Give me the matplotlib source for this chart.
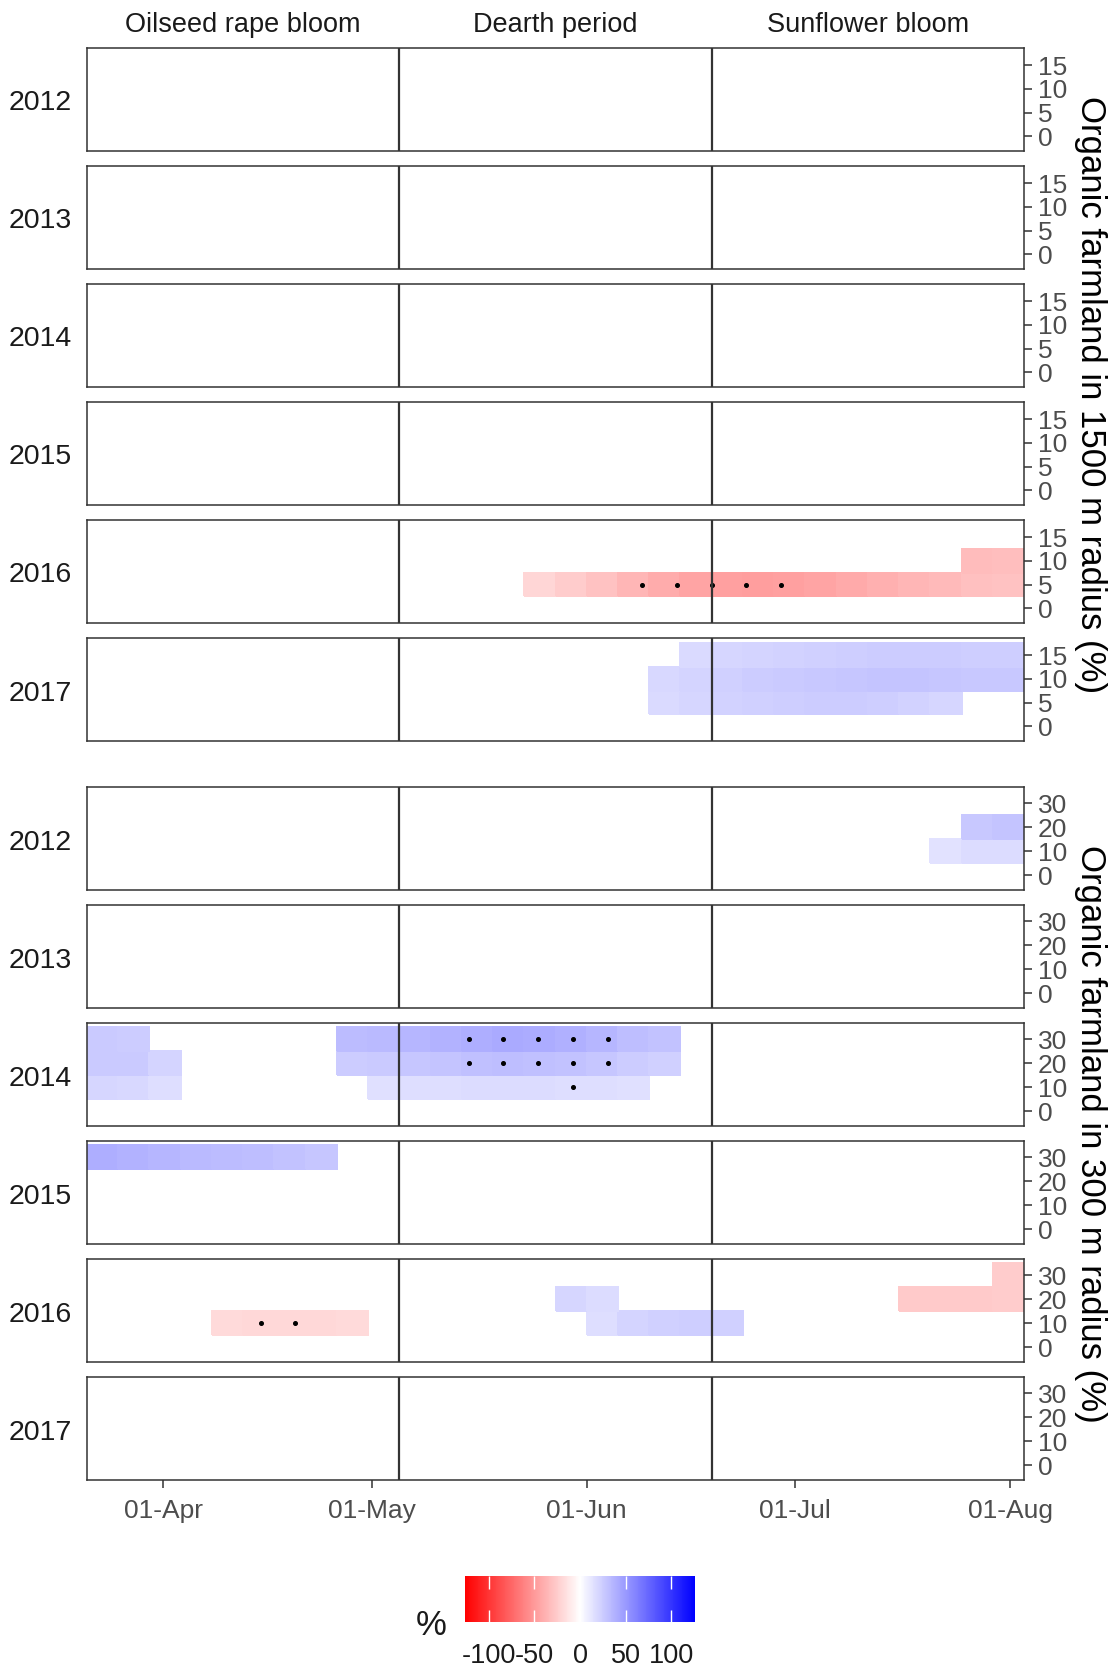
import numpy as np
import matplotlib
matplotlib.use('Agg')
import matplotlib.pyplot as plt
from matplotlib.colors import LinearSegmentedColormap, Normalize
from matplotlib.transforms import blended_transform_factory

plt.rcParams['font.family'] = ['Liberation Sans', 'DejaVu Sans']
plt.rcParams['axes.unicode_minus'] = False

years = [2012, 2013, 2014, 2015, 2016, 2017]
periods = ['Oilseed rape bloom', 'Dearth period', 'Sunflower bloom']
period_edges = [-11, 34, 79, 124]          # days after 1 April
tick_days = [0, 30, 61, 91, 122]
tick_labels = ['01-Apr', '01-May', '01-Jun', '01-Jul', '01-Aug']

# 30 moving windows of 4.5 days
win_start = -11
win_len = 4.5
n_win = 30

# organic farmland 1500 m: (year, farmland %, first window, effect %)
runs_1500 = [
    (2016, 5, 14, [-20, -25, -30, -36, -41, -45, -47, -48, -47, -45,
                   -42, -39, -36, -34, -31, -30]),
    (2016, 10, 28, [-33, -32]),
    (2017, 5, 18, [18, 20, 22, 23, 24, 25, 25, 24, 22, 20]),
    (2017, 10, 18, [19, 21, 23, 25, 26, 27, 28, 29, 29, 28, 27, 27]),
    (2017, 15, 19, [18, 20, 21, 22, 23, 24, 25, 25, 25, 24, 24]),
]
dots_1500 = [(2016, [69, 74, 79, 84, 89], [5, 5, 5, 5, 5])]

# organic farmland 300 m
runs_300 = [
    (2012, 20, 28, [27, 29]),
    (2012, 10, 27, [14, 17, 17]),
    (2014, 30, 0, [26, 25]),
    (2014, 30, 8, [33, 34, 36, 38, 40, 42, 41, 39, 36, 32, 30]),
    (2014, 20, 0, [26, 26, 21]),
    (2014, 20, 8, [25, 26, 28, 29, 31, 32, 31, 30, 28, 25, 23]),
    (2014, 10, 0, [20, 19, 16]),
    (2014, 10, 9, [15, 16, 16, 17, 17, 17, 16, 16, 15]),
    (2015, 30, 0, [40, 38, 36, 34, 33, 32, 30, 28]),
    (2016, 10, 4, [-18, -19, -19, -19, -18]),
    (2016, 20, 15, [20, 17]),
    (2016, 10, 16, [16, 21, 23, 24, 23]),
    (2016, 20, 26, [-26, -26, -26, -25]),
    (2016, 30, 29, [-25]),
]
dots_300 = [
    (2014, [44, 49, 54, 59, 64, 44, 49, 54, 59, 64, 59],
     [30, 30, 30, 30, 30, 20, 20, 20, 20, 20, 10]),
    (2016, [14, 19], [10, 10]),
]

groups = [
    dict(runs=runs_1500, dots=dots_1500, rows=[5, 10, 15], yticks=[0, 5, 10, 15],
         ylim=(-3.1, 18.6), top=48, title='Organic farmland in 1500 m radius (%)'),
    dict(runs=runs_300, dots=dots_300, rows=[10, 20, 30], yticks=[0, 10, 20, 30],
         ylim=(-6.2, 36.8), top=787, title='Organic farmland in 300 m radius (%)'),
]

cmap = LinearSegmentedColormap.from_list('rwb', ['#FF0000', '#FFFFFF', '#0000FF'])
norm = Normalize(-126, 126)
dark = '#333333'

W, H = 1115, 1669
fig = plt.figure(figsize=(W / 100, H / 100), dpi=100)
left, right = 87, 1024
ph, step = 103, 118

x_edges = win_start + win_len * np.arange(n_win + 1)
mesh = None
for gi, g in enumerate(groups):
    rows = g['rows']
    half = (rows[1] - rows[0]) / 2
    y_edges = np.append(np.array(rows) - half, rows[-1] + half)
    for k, yr in enumerate(years):
        top = g['top'] + k * step
        ax = fig.add_axes([left / W, 1 - (top + ph) / H, (right - left) / W, ph / H])
        z = np.full((len(rows), n_win), np.nan)
        for y, r, i0, vals in g['runs']:
            if y == yr:
                z[rows.index(r), i0:i0 + len(vals)] = vals
        mesh = ax.pcolormesh(x_edges, y_edges, np.ma.masked_invalid(z),
                             cmap=cmap, norm=norm, edgecolors='face', linewidth=0.3)
        for y, dx, dy in g['dots']:
            if y == yr:
                ax.plot(dx, dy, 'o', color='black', markersize=2.6, zorder=4)
        for b in period_edges[1:-1]:
            ax.axvline(b, color=dark, lw=1.6, zorder=5)
        ax.set_xlim(period_edges[0], period_edges[-1])
        ax.set_ylim(*g['ylim'])
        ax.yaxis.tick_right()
        ax.set_yticks(g['yticks'])
        ax.tick_params(axis='y', direction='out', length=6, width=1.1, color=dark,
                       labelsize=19, labelcolor='#4D4D4D', pad=4)
        ax.set_xticks(tick_days)
        if gi == 1 and k == len(years) - 1:
            ax.set_xticklabels(tick_labels)
            ax.tick_params(axis='x', direction='out', length=6, width=1.1, color=dark,
                           labelsize=19, labelcolor='#4D4D4D', pad=8)
        else:
            ax.tick_params(axis='x', length=0, labelbottom=False)
        for s in ax.spines.values():
            s.set_color(dark)
            s.set_linewidth(1.1)
        fig.text(40 / W, 1 - (top + ph / 2 + 4) / H, str(yr), ha='center', va='center',
                 fontsize=20.5, color='#1A1A1A')
        if gi == 0 and k == 0:
            tr = blended_transform_factory(ax.transData, ax.transAxes)
            for p, a, b in zip(periods, period_edges[:-1], period_edges[1:]):
                ax.text((a + b) / 2, 1.225, p, transform=tr, ha='center', va='center',
                        fontsize=19.5, color='#1A1A1A')
    mid = g['top'] + (5 * step + ph) / 2
    fig.text(1090 / W, 1 - mid / H, g['title'], rotation=-90, ha='center', va='center',
             fontsize=25, color='black')

cax = fig.add_axes([465 / W, 1 - 1622 / H, 230 / W, 46 / H])
cb = fig.colorbar(mesh, cax=cax, orientation='horizontal', ticks=[-100, -50, 0, 50, 100])
cb.outline.set_visible(False)
cax.tick_params(direction='in', color='white', length=9, width=1, top=True,
                labelsize=19.5, labelcolor='#1A1A1A', pad=15)
fig.text(431 / W, 1 - 1625 / H, '%', fontsize=25, ha='center', va='center', color='#1A1A1A')

fig.savefig('out.png', dpi=100)
